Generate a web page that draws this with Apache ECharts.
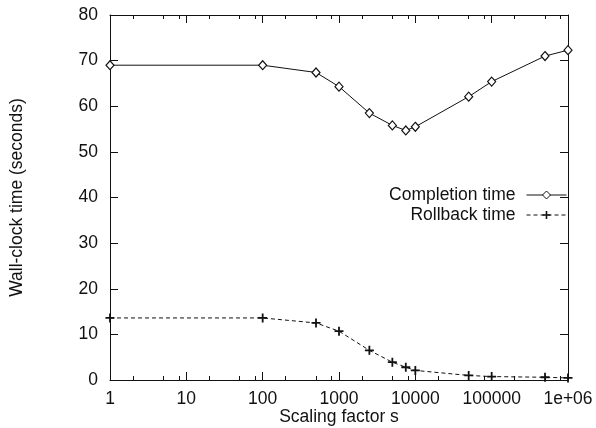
<!DOCTYPE html>
<html>
<head>
<meta charset="utf-8">
<script src="https://cdn.jsdelivr.net/npm/echarts@6/dist/echarts.min.js"></script>
<style>
html,body{margin:0;padding:0;background:#fff;}
#chart{width:596px;height:428px;}
</style>
</head>
<body>
<div id="chart"></div>
<script>
// Data
const scalingFactors = [1, 100, 500, 1000, 2500, 5000, 7500, 10000, 50000, 100000, 500000, 1000000];
const completionTime = [69.0, 69.0, 67.4, 64.3, 58.5, 55.8, 54.7, 55.5, 62.1, 65.4, 71.0, 72.3];
const rollbackTime = [13.6, 13.6, 12.5, 10.7, 6.5, 3.9, 2.8, 2.1, 1.0, 0.75, 0.6, 0.45];
const seriesNames = ['Completion time', 'Rollback time'];
const yTicks = [0, 10, 20, 30, 40, 50, 60, 70, 80];
const decades = [1, 10, 100, 1000, 10000, 100000];
const minorMultipliers = [2, 5, 8];
const minorTickValues = [];
decades.forEach(function (d) {
  minorMultipliers.forEach(function (k) { minorTickValues.push(d * k); });
});

const FONT = '"Liberation Sans", Arial, Helvetica, sans-serif';
const FS = 17.5;
const INK = '#111';
const chart = echarts.init(document.getElementById('chart'), null, {renderer: 'canvas'});

const gridRect = {left: 110, right: 28, top: 15, bottom: 48, containLabel: false, outerBoundsMode: 'none'};

function pairs(xs, ys) { return xs.map(function (x, i) { return [x, ys[i]]; }); }

function fmtX(v) {
  const r = Math.round(v);
  if (r >= 1000000) return '1e+06';
  return String(r);
}

const baseLine = {show: true, onZero: false, lineStyle: {color: INK, width: 1}};

const option = {
  animation: false,
  backgroundColor: '#fff',
  textStyle: {fontFamily: FONT, color: INK},
  grid: [
    Object.assign({}, gridRect),
    Object.assign({}, gridRect)
  ],
  legend: {
    data: seriesNames,
    orient: 'vertical',
    align: 'right',
    right: 29,
    top: 186,
    padding: 0,
    itemWidth: 40,
    itemHeight: 10,
    itemGap: 2,
    lineStyle: {width: 1},
    itemStyle: {borderWidth: 1},
    textStyle: {fontFamily: FONT, fontSize: FS, color: INK, padding: [0, 6, 0, 0]}
  },
  xAxis: [
    {
      gridIndex: 0, type: 'log', logBase: 10, min: 1, max: 1000000, splitNumber: 6,
      position: 'bottom',
      name: 'Scaling factor s', nameLocation: 'middle', nameGap: 28, nameMoveOverlap: false,
      nameTextStyle: {fontFamily: FONT, fontSize: FS, color: INK},
      axisLine: baseLine,
      axisTick: {show: true, inside: true, length: 8, lineStyle: {color: INK, width: 1}},
      axisLabel: {show: true, formatter: fmtX, fontFamily: FONT, fontSize: FS, color: INK, margin: 10,
        showMinLabel: true, showMaxLabel: true, hideOverlap: false, interval: 0},
      splitLine: {show: false}
    },
    {
      gridIndex: 0, type: 'log', logBase: 10, min: 1, max: 1000000, splitNumber: 6,
      position: 'top',
      axisLine: baseLine,
      axisTick: {show: true, inside: true, length: 8, lineStyle: {color: INK, width: 1}},
      axisLabel: {show: false},
      splitLine: {show: false}
    },
    {
      gridIndex: 1, type: 'log', logBase: 10, min: 1, max: 1000000,
      position: 'bottom',
      axisLine: {show: false, onZero: false},
      axisTick: {show: true, inside: true, length: 4, customValues: minorTickValues, lineStyle: {color: INK, width: 1}},
      axisLabel: {show: false},
      splitLine: {show: false}
    },
    {
      gridIndex: 1, type: 'log', logBase: 10, min: 1, max: 1000000,
      position: 'top',
      axisLine: {show: false, onZero: false},
      axisTick: {show: true, inside: true, length: 4, customValues: minorTickValues, lineStyle: {color: INK, width: 1}},
      axisLabel: {show: false},
      splitLine: {show: false}
    }
  ],
  yAxis: [
    {
      gridIndex: 0, type: 'value', min: yTicks[0], max: yTicks[yTicks.length - 1], interval: 10,
      position: 'left',
      name: 'Wall-clock time (seconds)', nameLocation: 'middle', nameGap: 84, nameRotate: 90, nameMoveOverlap: false,
      nameTextStyle: {fontFamily: FONT, fontSize: FS, color: INK},
      axisLine: baseLine,
      axisTick: {show: true, inside: true, length: 8, lineStyle: {color: INK, width: 1}},
      axisLabel: {show: true, fontFamily: FONT, fontSize: FS, color: INK, margin: 12},
      splitLine: {show: false}
    },
    {
      gridIndex: 0, type: 'value', min: yTicks[0], max: yTicks[yTicks.length - 1], interval: 10,
      position: 'right',
      axisLine: baseLine,
      axisTick: {show: true, inside: true, length: 8, lineStyle: {color: INK, width: 1}},
      axisLabel: {show: false},
      splitLine: {show: false}
    },
    {
      gridIndex: 1, type: 'value', min: 0, max: 1, show: false
    }
  ],
  series: [
    {
      name: seriesNames[0], type: 'line', xAxisIndex: 0, yAxisIndex: 0,
      data: pairs(scalingFactors, completionTime),
      symbol: 'diamond', symbolSize: [8, 9],
      showAllSymbol: true,
      lineStyle: {color: INK, width: 1},
      itemStyle: {color: '#fff', borderColor: INK, borderWidth: 1.2},
      z: 3
    },
    {
      name: seriesNames[1], type: 'line', xAxisIndex: 0, yAxisIndex: 0,
      data: pairs(scalingFactors, rollbackTime),
      symbol: 'path://M4,0H6V4H10V6H6V10H4V6H0V4H4Z', symbolSize: 9,
      showAllSymbol: true,
      lineStyle: {color: INK, width: 1, type: [4, 3]},
      itemStyle: {color: INK, borderWidth: 0},
      z: 3
    }
  ]
};

chart.setOption(option);
</script>
</body>
</html>
